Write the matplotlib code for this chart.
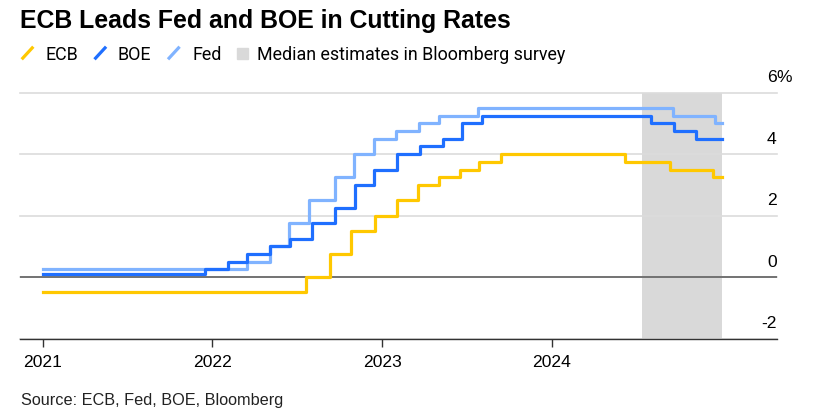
import matplotlib
matplotlib.use("Agg")
import matplotlib.pyplot as plt
import matplotlib.transforms as mtransforms
from matplotlib.lines import Line2D
from matplotlib.patches import Rectangle
import pandas as pd

# policy rates (%), step changes; last point holds the value to the end
ecb_dates = ["2021-01-01", "2022-07-22", "2022-09-10", "2022-10-26", "2022-12-16",
             "2023-02-03", "2023-03-19", "2023-05-03", "2023-06-17", "2023-07-28",
             "2023-09-14", "2024-06-06", "2024-09-12", "2024-12-13", "2025-01-01"]
ecb_rates = [-0.5, 0.0, 0.75, 1.5, 2.0, 2.5, 3.0, 3.25, 3.5, 3.75, 4.0, 3.75, 3.5, 3.25, 3.25]

boe_dates = ["2021-01-01", "2021-12-16", "2022-02-03", "2022-03-17", "2022-05-05",
             "2022-06-16", "2022-08-04", "2022-09-22", "2022-11-03", "2022-12-15",
             "2023-02-02", "2023-03-23", "2023-05-11", "2023-06-22", "2023-08-03",
             "2024-08-01", "2024-09-19", "2024-11-07", "2025-01-01"]
boe_rates = [0.1, 0.25, 0.5, 0.75, 1.0, 1.25, 1.75, 2.25, 3.0, 3.5, 4.0, 4.25, 4.5,
             5.0, 5.25, 5.0, 4.75, 4.5, 4.5]

fed_dates = ["2021-01-01", "2022-03-16", "2022-05-04", "2022-06-15", "2022-07-27",
             "2022-09-21", "2022-11-02", "2022-12-14", "2023-02-01", "2023-03-22",
             "2023-05-03", "2023-07-26", "2024-09-18", "2024-12-18", "2025-01-01"]
fed_rates = [0.25, 0.5, 1.0, 1.75, 2.5, 3.25, 4.0, 4.5, 4.75, 5.0, 5.25, 5.5, 5.25, 5.0, 5.0]

survey_start = "2024-07-13"
survey_end = "2025-01-01"

year_ticks = ["2021-01-01", "2022-01-01", "2023-01-01", "2024-01-01"]
year_labels = ["2021", "2022", "2023", "2024"]
y_ticks = [-2, 0, 2, 4, 6]

c_ecb = "#ffc800"
c_boe = "#1f6fff"
c_fed = "#80b3ff"
c_shade = "#d9d9d9"

W, H = 822, 417
fig = plt.figure(figsize=(W / 100, H / 100), dpi=100)
ax = fig.add_axes([20 / W, 1 - 338.5 / H, (776.7 - 20) / W, (338.5 - 92.7) / H])

ax.axvspan(pd.Timestamp(survey_start), pd.Timestamp(survey_end), color=c_shade, lw=0, zorder=0)

ax.plot(pd.to_datetime(ecb_dates), ecb_rates, drawstyle="steps-post", color=c_ecb, lw=2.3, zorder=3)
ax.plot(pd.to_datetime(fed_dates), fed_rates, drawstyle="steps-post", color=c_fed, lw=2.3, zorder=3)
ax.plot(pd.to_datetime(boe_dates), boe_rates, drawstyle="steps-post", color=c_boe, lw=2.3, zorder=4)

ax.axhline(0, color="#555555", lw=1.1, zorder=2)

ax.set_xlim(pd.Timestamp("2020-11-13"), pd.Timestamp("2025-04-29"))
ax.set_ylim(-2, 6)

for s in ["top", "left", "right"]:
    ax.spines[s].set_visible(False)
ax.spines["bottom"].set_color("#333333")
ax.spines["bottom"].set_linewidth(1.0)

ax.set_xticks(pd.to_datetime(year_ticks))
ax.set_xticklabels(year_labels, fontsize=12.6, family="Liberation Sans")
ax.tick_params(axis="x", length=6, width=1, color="#333333", pad=6)

ax.yaxis.tick_right()
ax.set_yticks(y_ticks)
ax.set_yticklabels([str(v) for v in y_ticks], fontsize=12.6, family="Liberation Sans")
ax.tick_params(axis="y", length=0, pad=0)
shift = mtransforms.ScaledTranslation(0, 10.5 / 100, fig.dpi_scale_trans)
for lab in ax.get_yticklabels():
    lab.set_ha("right")
    lab.set_va("baseline")
    lab.set_transform(lab.get_transform() + shift)

ax.grid(axis="y", color="#dcdcdc", lw=1.2, zorder=1)
ax.set_axisbelow(True)
for gl in ax.get_ygridlines():
    gl.set_clip_on(False)

blend = mtransforms.blended_transform_factory(ax.transAxes, ax.transData)
ax.text(1.0, 6, "%", transform=blend + shift, ha="left", va="baseline",
        fontsize=12.6, family="Liberation Sans")

# title, legend and source
fig.text(20 / W, 1 - 28 / H, "ECB Leads Fed and BOE in Cutting Rates", fontsize=17.9,
         fontweight="bold", family="Liberation Sans", va="baseline", color="#000000")

leg_y = 1 - 60 / H
items = [(21.7, 45, "ECB", c_ecb), (94.5, 117, "BOE", c_boe), (168, 192, "Fed", c_fed)]
for mx, tx, name, col in items:
    fig.add_artist(Line2D([mx / W, (mx + 11.6) / W], [1 - 59.3 / H, 1 - 46.7 / H],
                          color=col, lw=2.3, solid_capstyle="butt"))
    fig.text(tx / W, leg_y, name, fontsize=12.9, family="Roboto", va="baseline")
fig.add_artist(Rectangle((237 / W, 1 - 59 / H), 11 / W, 11 / H, color=c_shade,
                         transform=fig.transFigure))
fig.text(257 / W, leg_y, "Median estimates in Bloomberg survey", fontsize=12.9,
         family="Roboto", va="baseline")

fig.text(21 / W, 1 - 405 / H, "Source: ECB, Fed, BOE, Bloomberg", fontsize=11.7,
         family="Liberation Sans", va="baseline", color="#222222")

fig.savefig("out.png", dpi=100)
